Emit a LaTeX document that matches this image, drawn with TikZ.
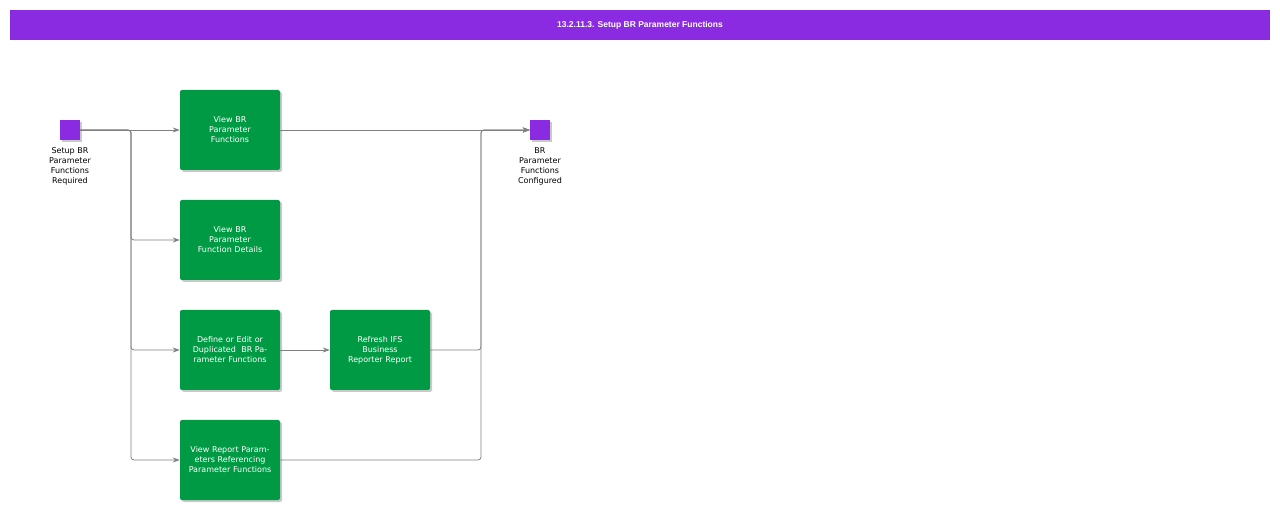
\documentclass[tikz,border=0pt]{standalone}
\usepackage{fontspec}
\setmainfont{DejaVu Sans}
\newfontfamily\titlefont{Liberation Sans}
\usetikzlibrary{shadows,arrows.meta}
\definecolor{purp}{HTML}{8A2BE2}
\definecolor{grn}{HTML}{009A44}
\tikzset{
 x=1pt,y=-1pt,
 task/.style={draw=none,fill=grn,rounded corners=2pt,minimum width=100pt,minimum height=80pt,text width=96pt,align=center,text=white,font=\fontsize{8}{10}\selectfont,inner sep=1pt,drop shadow={shadow xshift=2pt,shadow yshift=-2pt,fill=black!35,opacity=0.6}},
 ev/.style={fill=purp,minimum size=20pt,inner sep=0pt,drop shadow={shadow xshift=2pt,shadow yshift=-2pt,fill=black!35,opacity=0.6}},
 lbl/.style={align=center,font=\fontsize{8}{10}\selectfont,text width=80pt},
 conn/.style={draw=gray,line width=0.8pt,rounded corners=3pt},
 arr/.style={conn,-{Stealth[length=7pt,width=5pt]}}
}
\begin{document}
\begin{tikzpicture}
\useasboundingbox (0,0) rectangle (1280,510);
\fill[white] (0,0) rectangle (1280,510);
\fill[purp] (10,10) rectangle (1270,40);
\node[text=white,font=\titlefont\bfseries\fontsize{8.5}{10}\selectfont] (title) at (640,25) {13.2.11.3. Setup BR Parameter Functions};
\node[ev] (s) at (70,130) {};
\node[lbl,anchor=north] (sl) at (70,144) {Setup BR\\Parameter\\Functions\\Required};
\node[ev] (e) at (540,130) {};
\node[lbl,anchor=north] (el) at (540,144) {BR\\Parameter\\Functions\\Configured};
\node[task] (a) at (230,130) {View BR\\Parameter\\Functions};
\node[task] (b) at (230,240) {View BR\\Parameter\\Function Details};
\node[task] (c) at (230,350) {Define or Edit or Duplicated\ \ BR Parameter Functions};
\node[task] (d) at (230,460) {View Report Parameters Referencing Parameter Functions};
\node[task] (r) at (380,350) {Refresh IFS\\Business\\Reporter Report};
\draw[arr] (s.east) -- (a.west);
\draw[arr] (s.east) -- (131,130) |- (b.west);
\draw[arr] (s.east) -- (131,130) |- (c.west);
\draw[arr] (s.east) -- (131,130) |- (d.west);
\draw[arr] (c.east) -- (r.west);
\draw[arr] (a.east) -- (e.west);
\draw[arr] (r.east) -- (481,350) |- (e.west);
\draw[arr] (d.east) -- (481,460) |- (e.west);
\end{tikzpicture}
\end{document}
